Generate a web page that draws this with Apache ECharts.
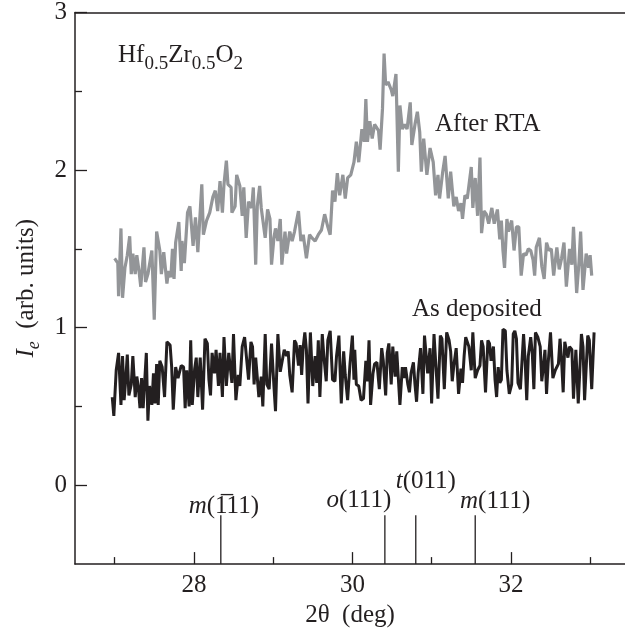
<!DOCTYPE html>
<html>
<head>
<meta charset="utf-8">
<script src="https://cdn.jsdelivr.net/npm/echarts@6/dist/echarts.min.js"></script>
<style>
html,body{margin:0;padding:0;background:#fff;}
#c{width:625px;height:633px;}
</style>
</head>
<body>
<div id="c"></div>
<script>
// ---- data (2θ in deg, intensity in arb. units) ----
const rtaPoints = [
[27.00,1.44],[27.04,1.41],[27.05,1.20],[27.08,1.63],[27.10,1.19],[27.13,1.38],[27.16,1.46],[27.19,1.58],[27.21,1.34],[27.23,1.47],
[27.26,1.34],[27.28,1.46],[27.31,1.35],[27.33,1.26],[27.37,1.51],[27.39,1.29],[27.42,1.34],[27.47,1.49],[27.50,1.05],[27.53,1.61],
[27.57,1.49],[27.59,1.34],[27.62,1.48],[27.66,1.28],[27.68,1.36],[27.71,1.32],[27.73,1.50],[27.75,1.31],[27.77,1.54],[27.81,1.67],
[27.84,1.36],[27.85,1.55],[27.88,1.41],[27.92,1.73],[27.95,1.77],[27.99,1.52],[28.02,1.70],[28.05,1.48],[28.10,1.91],[28.12,1.59],
[28.16,1.68],[28.20,1.73],[28.24,1.83],[28.27,1.87],[28.30,1.74],[28.33,1.93],[28.36,1.73],[28.38,1.91],[28.41,2.06],[28.43,1.91],
[28.47,1.89],[28.48,1.73],[28.52,1.77],[28.54,1.97],[28.56,1.97],[28.58,1.90],[28.61,1.71],[28.63,1.89],[28.66,1.57],[28.69,1.80],
[28.73,1.76],[28.75,1.89],[28.78,1.40],[28.80,1.77],[28.83,1.90],[28.85,1.76],[28.90,1.57],[28.93,1.75],[28.96,1.69],[28.98,1.40],
[29.01,1.57],[29.03,1.63],[29.06,1.55],[29.09,1.69],[29.11,1.40],
[29.15,1.61],[29.17,1.47],[29.21,1.61],[29.24,1.55],[29.27,1.61],[29.32,1.74],[29.35,1.55],[29.38,1.59],[29.42,1.44],[29.46,1.59],
[29.49,1.57],[29.53,1.55],[29.57,1.59],[29.61,1.62],[29.65,1.72],[29.69,1.64],[29.72,1.59],[29.75,1.87],[29.78,1.80],[29.81,1.98],
[29.84,1.84],[29.88,1.97],[29.91,1.82],[29.94,1.95],[29.98,1.97],[30.02,2.05],[30.05,2.18],[30.08,2.05],[30.12,2.26],[30.15,2.18],
[30.17,2.45],[30.19,2.18],[30.22,2.31],[30.25,2.20],[30.28,2.29],[30.33,2.25],[30.35,2.13],[30.38,2.39],[30.40,2.74],[30.42,2.54],
[30.45,2.56],[30.49,2.51],[30.51,2.47],[30.55,2.61],[30.58,1.99],[30.60,2.41],[30.63,2.26],[30.66,2.29],[30.69,2.26],[30.73,2.43],
[30.75,2.16],[30.79,2.29],[30.82,2.37],[30.85,2.24],[30.87,1.99],[30.90,2.20],[30.94,1.97],[30.98,2.14],[31.02,2.05],[31.05,1.84],[31.08,1.97],
[31.10,1.82],[31.14,1.99],[31.17,2.09],[31.21,1.82],[31.24,1.99],[31.28,1.77],[31.31,1.83],[31.34,1.74],[31.37,1.79],[31.39,1.69],
[31.42,1.84],[31.45,1.82],[31.50,2.02],[31.52,1.76],[31.55,1.95],[31.58,1.71],[31.61,2.08],[31.63,1.60],[31.66,1.74],[31.69,1.72],
[31.72,1.66],[31.76,1.76],[31.79,1.66],[31.83,1.75],[31.86,1.56],[31.88,1.68],[31.90,1.49],[31.92,1.38],[31.95,1.69],[31.97,1.61],
[32.01,1.68],[32.04,1.49],[32.07,1.64],[32.10,1.64],[32.13,1.33],[32.16,1.47],[32.19,1.46],[32.22,1.50],[32.25,1.49],[32.28,1.43],
[32.30,1.33],[32.32,1.51],[32.36,1.57],[32.39,1.39],[32.42,1.31],[32.45,1.54],[32.48,1.49],[32.51,1.50],[32.54,1.33],[32.58,1.51],
[32.61,1.37],[32.64,1.44],[32.67,1.54],[32.70,1.26],[32.74,1.50],[32.77,1.40],[32.79,1.64],[32.83,1.22],[32.86,1.42],[32.88,1.61],
[32.91,1.24],[32.95,1.47],[32.98,1.38],[33.00,1.46],[33.02,1.33]
];
const depPoints = [
[26.97,0.56],[26.99,0.44],[27.02,0.73],[27.05,0.84],[27.08,0.51],[27.10,0.82],[27.12,0.54],[27.14,0.67],[27.16,0.83],[27.18,0.57],
[27.21,0.64],[27.23,0.82],[27.26,0.56],[27.28,0.69],[27.30,0.62],[27.32,0.49],[27.34,0.68],[27.36,0.49],[27.38,0.48],[27.40,0.84],
[27.42,0.41],[27.44,0.63],[27.47,0.51],[27.49,0.71],[27.51,0.52],[27.53,0.77],[27.55,0.51],[27.57,0.79],[27.60,0.75],[27.63,0.56],
[27.66,0.91],[27.70,0.89],[27.72,0.75],[27.74,0.48],[27.77,0.75],[27.80,0.68],[27.84,0.76],[27.87,0.75],[27.89,0.49],[27.91,0.73],
[27.94,0.50],[27.96,0.92],[27.98,0.51],[28.01,0.74],[28.03,0.81],[28.05,0.56],[28.08,0.81],[28.11,0.48],[28.14,0.93],[28.17,0.90],
[28.19,0.67],[28.21,0.57],[28.23,0.84],[28.26,0.71],[28.28,0.86],[28.31,0.63],[28.33,0.84],[28.36,0.56],[28.38,0.94],[28.41,0.63],
[28.44,0.84],[28.48,0.65],
[28.50,0.96],[28.53,0.54],[28.56,0.70],[28.58,0.63],[28.61,0.88],[28.64,0.94],[28.66,0.93],[28.69,0.67],[28.72,0.91],[28.74,0.88],
[28.76,0.64],[28.78,0.81],[28.80,0.81],[28.82,0.56],[28.85,0.69],[28.87,0.50],[28.90,0.96],[28.92,0.64],[28.95,0.61],[28.98,0.90],
[29.01,0.63],[29.03,0.47],[29.06,0.96],[29.09,0.72],[29.11,0.73],[29.14,0.86],[29.17,0.82],[29.19,0.85],[29.21,0.70],[29.24,0.59],
[29.27,0.92],[29.29,0.90],[29.32,0.76],[29.34,0.89],[29.36,0.70],[29.38,0.88],[29.40,0.97],[29.42,0.86],[29.44,0.52],[29.47,0.97],
[29.50,0.63],[29.53,0.82],[29.55,0.65],[29.57,0.92],[29.59,0.56],[29.62,0.96],[29.64,0.82],[29.67,0.66],[29.69,0.92],[29.72,0.98],
[29.75,0.67],[29.78,0.66],[29.80,0.82],[29.83,0.95],[29.86,0.52],[29.89,0.85],[29.91,0.70],[29.94,0.54],[29.97,0.77],[30.00,0.95],
[30.02,0.67],
[30.03,0.86],[30.05,0.64],[30.08,0.63],[30.11,0.54],[30.14,0.55],[30.17,0.79],[30.19,0.66],[30.21,0.92],[30.23,0.51],[30.26,0.71],
[30.28,0.77],[30.31,0.78],[30.34,0.61],[30.37,0.87],[30.39,0.79],[30.42,0.57],[30.44,0.84],[30.46,0.90],[30.49,0.64],[30.51,0.88],
[30.54,0.69],[30.56,0.85],[30.58,0.68],[30.60,0.51],[30.63,0.75],[30.65,0.68],[30.67,0.75],[30.70,0.64],[30.72,0.59],[30.74,0.71],
[30.77,0.78],[30.79,0.64],[30.81,0.53],[30.83,0.71],[30.86,0.87],[30.89,0.58],[30.91,0.95],[30.95,0.71],[30.98,0.87],[31.00,0.52],
[31.03,0.96],[31.05,0.79],[31.08,0.55],[31.11,0.95],[31.13,0.93],[31.16,0.61],[31.19,0.97],[31.22,0.92],[31.24,0.85],[31.26,0.66],
[31.28,0.76],[31.31,0.87],[31.34,0.58],[31.37,0.74],[31.39,0.65],[31.41,0.82],[31.43,0.94],[31.45,0.95],[31.47,0.88],[31.50,0.73],
[31.52,0.97],[31.55,0.68],[31.58,0.73],[31.61,0.76],[31.63,0.92],
[31.65,0.88],[31.68,0.59],[31.71,0.92],[31.73,0.90],[31.75,0.79],[31.78,0.88],[31.80,0.67],[31.82,0.56],[31.84,0.75],[31.86,0.65],
[31.88,0.67],[31.90,0.99],[31.93,0.98],[31.95,0.73],[31.98,0.58],[32.01,0.64],[32.03,0.96],[32.05,0.98],[32.07,0.93],[32.09,0.65],
[32.12,0.61],[32.16,0.96],[32.18,0.79],[32.20,0.54],[32.22,0.82],[32.25,0.94],[32.27,0.84],[32.29,0.61],[32.31,0.97],[32.34,0.94],
[32.37,0.88],[32.39,0.66],[32.41,0.75],[32.43,0.86],[32.45,0.58],[32.47,0.77],[32.50,0.97],[32.53,0.68],[32.56,0.73],[32.58,0.74],
[32.60,0.77],[32.62,0.93],[32.64,0.79],[32.66,0.59],[32.68,0.91],[32.70,0.90],[32.72,0.81],[32.74,0.88],[32.77,0.86],[32.79,0.55],
[32.82,0.86],[32.85,0.52],[32.87,0.73],[32.89,0.96],[32.91,0.88],[32.93,0.54],[32.97,0.95],[32.99,0.92],[33.02,0.61],[33.05,0.97]
];
// reference peak positions (deg)
const peakNames = ['m(1\u030511)', 'o(111)', 't(011)', 'm(111)'];
const peakPos = [28.34, 30.41, 30.80, 31.55];
const peakTop = -0.19;
// axis ticks
const xRange = [26.5, 33.44];
const yRange = [-0.5, 3];
const xMajor = [28, 30, 32];
const xMinor = [27, 29, 31, 33];
const yMajor = [0, 1, 2, 3];
const yMinor = [0.5, 1.5, 2.5];

// ---- styles ----
const FONT = 'Liberation Serif';
const INK = '#231f20';
const GRAY = '#939598';
const FS = 25;

const labelOffsets = [[3, -9], [-26, -15], [10, -34], [20, -14]];
const noBorder = {textBorderWidth: 0, textBorderColor: 'transparent', textShadowBlur: 0};
const richPeak = {
  it: Object.assign({fontFamily: FONT, fontStyle: 'italic', fontWeight: 'normal', fontSize: FS, color: INK}, noBorder),
  n: Object.assign({fontFamily: FONT, fontWeight: 'normal', fontSize: FS, color: INK}, noBorder)
};

const series = [
  {type: 'line', name: 'After RTA', data: rtaPoints, showSymbol: false, symbol: 'none',
   lineStyle: {color: GRAY, width: 3.2}, z: 2},
  {type: 'line', name: 'As deposited', data: depPoints, showSymbol: false, symbol: 'none',
   lineStyle: {color: INK, width: 3}, z: 3}
];
peakPos.forEach((p) => {
  series.push({type: 'line', data: [[p, peakTop], [p, yRange[0]]], showSymbol: false, symbol: 'none',
    lineStyle: {color: INK, width: 1.3}, z: 4});
});
series.push({
  type: 'scatter', symbolSize: 0, itemStyle: {color: INK, opacity: 1},
  data: peakPos.map((p, i) => {
    const nm = peakNames[i];
    return {
      value: [p, peakTop],
      label: Object.assign({show: true, position: 'inside', offset: labelOffsets[i], color: INK,
        formatter: '{it|' + nm.charAt(0) + '}{n|' + nm.slice(1) + '}', rich: richPeak}, noBorder)
    };
  }),
  z: 5
});

const axisLineStyle = {color: INK, width: 1.5};
const option = {
  animation: false,
  backgroundColor: '#fff',
  grid: {left: 75, right: 0, top: 10, bottom: 68, containLabel: false},
  title: {
    text: '{a|Hf}{s|0.5}{a|Zr}{s|0.5}{a|O}{s|2}',
    left: 113, top: 38,
    textStyle: {
      fontWeight: 'normal',
      rich: {
        a: {fontFamily: FONT, fontWeight: 'normal', fontSize: FS, color: INK, lineHeight: FS, verticalAlign: 'top'},
        s: {fontFamily: FONT, fontWeight: 'normal', fontSize: 19, color: INK, lineHeight: 19, verticalAlign: 'top', padding: [12, 0, 0, 0]}
      }
    }
  },
  graphic: [
    {type: 'text', left: 435, top: 112, style: {text: 'After RTA', font: FS + 'px "' + FONT + '"', fill: INK}},
    {type: 'text', left: 412, top: 297, style: {text: 'As deposited', font: FS + 'px "' + FONT + '"', fill: INK}}
  ],
  xAxis: [
    {type: 'value', min: xRange[0], max: xRange[1], position: 'bottom',
     axisLine: {show: true, onZero: false, lineStyle: axisLineStyle},
     axisTick: {show: true, inside: true, length: 12, customValues: xMajor, lineStyle: {color: INK, width: 1.3}},
     axisLabel: {show: true, customValues: xMajor, fontFamily: FONT, fontSize: FS, color: INK, margin: 9},
     splitLine: {show: false},
     name: '2\u03b8  (deg)', nameLocation: 'middle', nameGap: 38,
     nameTextStyle: {fontFamily: FONT, fontSize: FS, color: INK}},
    {type: 'value', min: xRange[0], max: xRange[1], position: 'bottom',
     axisLine: {show: false, onZero: false},
     axisTick: {show: true, inside: true, length: 7, customValues: xMinor, lineStyle: {color: INK, width: 1.3}},
     axisLabel: {show: false}, splitLine: {show: false}},
    {type: 'value', min: xRange[0], max: xRange[1], position: 'top',
     axisLine: {show: true, onZero: false, lineStyle: axisLineStyle},
     axisTick: {show: false}, axisLabel: {show: false}, splitLine: {show: false}}
  ],
  yAxis: [
    {type: 'value', min: yRange[0], max: yRange[1], position: 'left',
     axisLine: {show: true, onZero: false, lineStyle: axisLineStyle},
     axisTick: {show: true, inside: true, length: 12, customValues: yMajor, lineStyle: {color: INK, width: 1.3}},
     axisLabel: {show: true, customValues: yMajor, fontFamily: FONT, fontSize: FS, color: INK, margin: 8},
     splitLine: {show: false},
     name: '{i|I}{e|e}{n|  (arb. units)}', nameLocation: 'middle', nameGap: 36, nameRotate: 90,
     nameTextStyle: {
       rich: {
         i: {fontFamily: FONT, fontStyle: 'italic', fontSize: FS, color: INK, lineHeight: FS, verticalAlign: 'top'},
         e: {fontFamily: FONT, fontStyle: 'italic', fontSize: 18, color: INK, lineHeight: 18, verticalAlign: 'top', padding: [12, 0, 0, 0]},
         n: {fontFamily: FONT, fontSize: FS, color: INK, lineHeight: FS, verticalAlign: 'top'}
       }
     }},
    {type: 'value', min: yRange[0], max: yRange[1], position: 'left',
     axisLine: {show: false, onZero: false},
     axisTick: {show: true, inside: true, length: 7, customValues: yMinor, lineStyle: {color: INK, width: 1.3}},
     axisLabel: {show: false}, splitLine: {show: false}}
  ],
  series: series
};

const chart = echarts.init(document.getElementById('c'));
chart.setOption(option);
</script>
</body>
</html>
